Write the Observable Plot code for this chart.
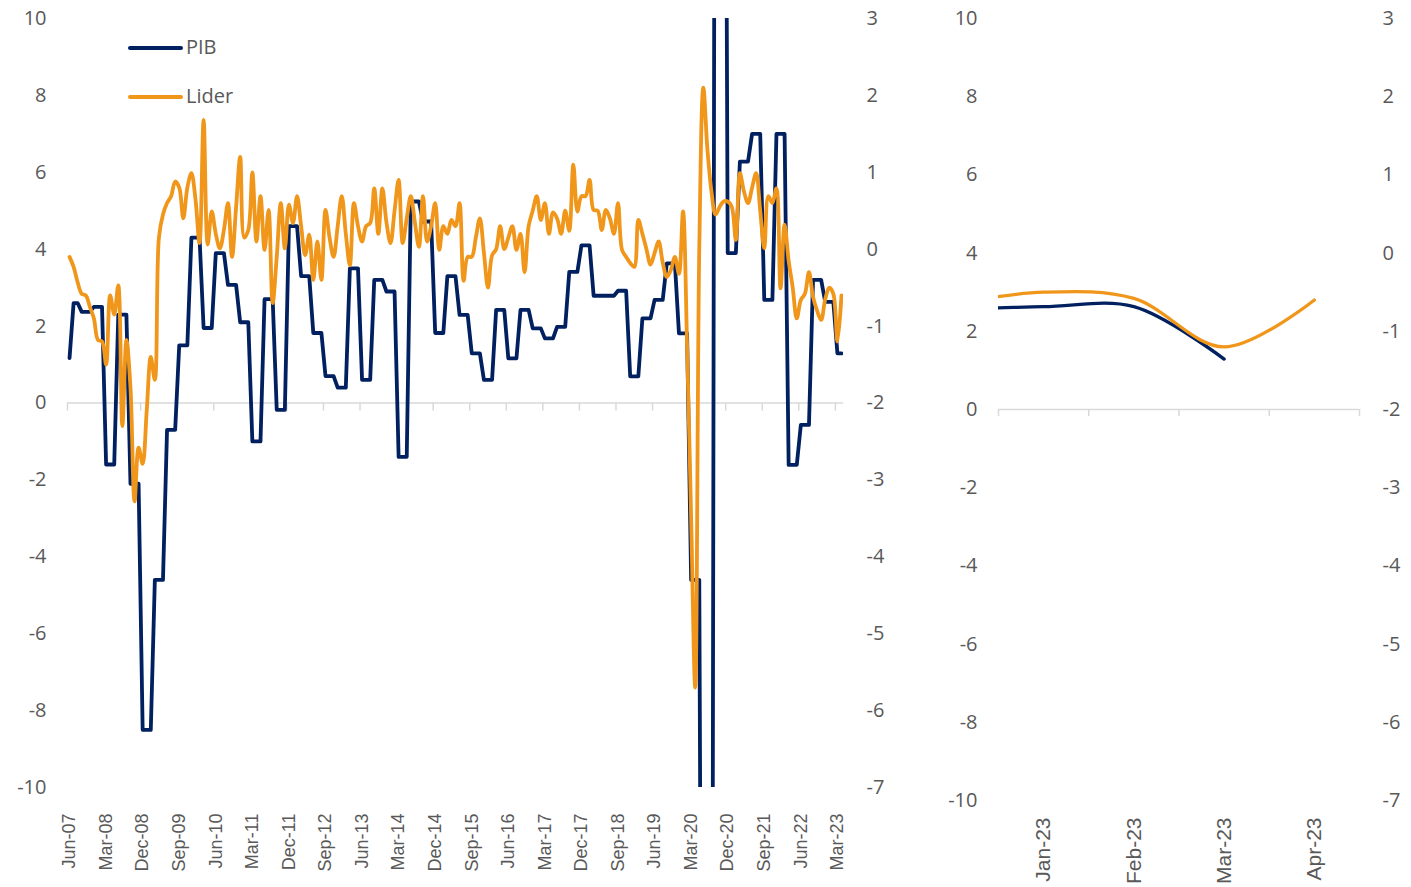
<!DOCTYPE html>
<html><head><meta charset="utf-8">
<script src="https://cdn.jsdelivr.net/npm/d3@7"></script>
<script src="https://cdn.jsdelivr.net/npm/@observablehq/plot@0.6"></script>
<style>
body{margin:0;background:#fff;}
#wrap{position:relative;width:1411px;height:887px;overflow:hidden;background:#fff;}
.layer{position:absolute;top:0;}
.layer svg{overflow:visible;}
.leg{position:absolute;font-family:"Open Sans",sans-serif;font-size:20px;color:#595959;line-height:1;}
.legline{position:absolute;height:4px;border-radius:2px;}
</style></head><body><div id="wrap"></div>
<script>
// Monthly series, first month Jun-07, last month Apr-23
const firstMonth = {year: 2007, month: 5};
const pib = [
 1.17, 2.6, 2.6, 2.37, 2.37, 2.37, 2.5, 2.5, 2.5, -1.6, -1.6, -1.6,
 2.3, 2.3, 2.3, -2.1, -2.1, -2.1, -8.5, -8.5, -8.5, -4.6, -4.6, -4.6,
 -0.7, -0.7, -0.7, 1.5, 1.5, 1.5, 4.3, 4.3, 4.3, 1.95, 1.95, 1.95,
 3.9, 3.9, 3.9, 3.07, 3.07, 3.07, 2.1, 2.1, 2.1, -1.0, -1.0, -1.0,
 2.7, 2.7, 2.7, -0.18, -0.18, -0.18, 4.6, 4.6, 4.6, 3.3, 3.3, 3.3,
 1.82, 1.82, 1.82, 0.7, 0.7, 0.7, 0.4, 0.4, 0.4, 3.5, 3.5, 3.5,
 0.6, 0.6, 0.6, 3.2, 3.2, 3.2, 2.9, 2.9, 2.9, -1.4, -1.4, -1.4,
 5.24, 5.24, 5.24, 4.72, 4.72, 4.72, 1.82, 1.82, 1.82, 3.3, 3.3, 3.3,
 2.29, 2.29, 2.29, 1.29, 1.29, 1.29, 0.6, 0.6, 0.6, 2.42, 2.42, 2.42,
 1.16, 1.16, 1.16, 2.42, 2.42, 2.42, 1.94, 1.94, 1.94, 1.68, 1.68, 1.68,
 1.98, 1.98, 1.98, 3.41, 3.41, 3.41, 4.1, 4.1, 4.1, 2.79, 2.79, 2.79,
 2.79, 2.79, 2.79, 2.92, 2.92, 2.92, 0.69, 0.69, 0.69, 2.2, 2.2, 2.2,
 2.68, 2.68, 2.68, 3.63, 3.63, 3.63, 1.81, 1.81, 1.81, -4.6, -4.6, -4.6,
 -30, -30, -30, 30, 30, 30, 3.9, 3.9, 3.9, 6.28, 6.28, 6.28,
 7.0, 7.0, 7.0, 2.68, 2.68, 2.68, 7.0, 7.0, 7.0, -1.61, -1.61, -1.61,
 -0.57, -0.57, -0.57, 3.2, 3.2, 3.2, 2.63, 2.63, 2.63, 1.29, 1.29
];
const lider = [
 -0.10, -0.23, -0.43, -0.58, -0.60, -0.75, -0.90, -1.18, -1.20, -1.50, -0.60, -0.85,
 -0.47, -2.30, -1.18, -1.80, -3.28, -2.58, -2.79, -2.10, -1.40, -1.70, 0.15, 0.45,
 0.60, 0.69, 0.88, 0.80, 0.40, 0.80, 0.99, 0.65, 0.08, 1.68, 0.06, 0.49,
 0.20, 0.01, 0.25, 0.60, -0.10, 0.55, 1.20, 0.15, 0.25, 1.00, 0.10, 0.69,
 -0.01, 0.51, -0.70, -0.10, 0.60, 0.01, 0.58, 0.34, 0.69, 0.30, -0.08, 0.19,
 -0.40, 0.10, -0.40, 0.51, 0.15, -0.10, 0.30, 0.69, 0.20, -0.21, 0.60, 0.30,
 0.10, 0.30, 0.34, 0.79, 0.20, 0.79, 0.35, 0.08, 0.50, 0.90, 0.08, 0.40,
 0.69, 0.35, 0.03, 0.69, 0.10, 0.30, 0.60, -0.01, 0.30, 0.20, 0.38, 0.30,
 0.60, -0.41, -0.10, -0.10, 0.15, 0.40, -0.05, -0.50, -0.08, 0.00, 0.30, 0.00,
 0.15, 0.30, -0.01, 0.20, -0.30, 0.30, 0.50, 0.69, 0.38, 0.60, 0.20, 0.48,
 0.40, 0.20, 0.50, 0.24, 1.10, 0.49, 0.69, 0.69, 0.90, 0.51, 0.50, 0.25,
 0.51, 0.40, 0.20, 0.60, -0.01, -0.10, -0.18, -0.23, 0.38, 0.20, 0.00, -0.20,
 -0.05, 0.10, -0.17, -0.36, -0.27, -0.10, -0.32, 0.49, -1.25, -3.50, -5.70, 0.00,
 2.10, 1.30, 0.75, 0.45, 0.55, 0.62, 0.62, 0.55, 0.12, 0.99, 0.75, 0.60,
 0.80, 0.99, 0.50, 0.01, 0.69, 0.60, 0.79, -0.51, 0.32, -0.15, -0.50, -0.90,
 -0.66, -0.58, -0.30, -0.62, -0.80, -0.92, -0.65, -0.50, -0.58, -1.20, -0.60
];
const pibTicks = [-10, -8, -6, -4, -2, 0, 2, 4, 6, 8, 10];
const liderTicks = [-7, -6, -5, -4, -3, -2, -1, 0, 1, 2, 3];
const labelStep = 9;
const zoomFirst = 186.5, zoomLast = 190.5;   // Jan-23 .. Apr-23 window
const pibZoomLastIndex = 189;                // PIB shown until Mar-23 in the zoom panel
const seriesNames = ["PIB", "Lider"];
const colors = {PIB: "#002060", Lider: "#F0961A"};

const fmt = d3.utcFormat("%b-%y");
const monthLabel = i => fmt(d3.utcMonth.offset(new Date(Date.UTC(firstMonth.year, firstMonth.month, 1)), i));
const num = d => String(d);
const n = pib.length;
const labelIdx = d3.range(0, n, labelStep);
const tickIdx = labelIdx.map(i => i - 0.5);
const zoomLabelIdx = d3.range(Math.ceil(zoomFirst), zoomLast);
const zoomTickIdx = d3.range(zoomFirst, zoomLast + 0.01, 1);

const FONT = '"Open Sans", sans-serif';
const GRAY = "#595959";
const AXIS = "#D9D9D9";
const wrap = document.getElementById("wrap");
function add(svg, left) {
  const d = document.createElement("div");
  d.className = "layer"; d.style.left = left + "px";
  d.appendChild(svg); wrap.appendChild(d);
}
const H = 887;
// ---------- LEFT PANEL ----------
const L = {width: 930, marginLeft: 67, marginRight: 87, marginTop: 18, marginBottom: 100};
add(Plot.plot({
  ...L, height: H, style: {background: "transparent", fontFamily: FONT},
  x: {domain: [-0.5, n - 0.5], axis: null},
  y: {domain: [-10, 10], axis: null},
  marks: [
    Plot.axisY(pibTicks, {anchor: "left", tickSize: 0, tickPadding: 21, tickFormat: num, fontSize: 20, fill: GRAY, fontFamily: FONT}),
    Plot.ruleY([0], {stroke: AXIS, strokeWidth: 1.5}),
    Plot.ruleX(tickIdx, {x: d => d, y1: 0, y2: -0.21, stroke: AXIS, strokeWidth: 1.5}),
    Plot.axisX(labelIdx, {anchor: "bottom", tickSize: 0, tickPadding: 26, tickRotate: -90, tickFormat: monthLabel,
      fontSize: 18, fill: GRAY, fontFamily: '"Liberation Sans", Arial, sans-serif'}),
    Plot.line(pib, {x: (d, i) => i, y: d => d, stroke: colors.PIB, strokeWidth: 3.8, clip: true, strokeLinejoin: "round"})
  ]
}), 0);
add(Plot.plot({
  ...L, height: H, style: {background: "transparent", fontFamily: FONT},
  x: {domain: [-0.5, n - 0.5], axis: null},
  y: {domain: [-7, 3], axis: null},
  marks: [
    Plot.axisY(liderTicks, {anchor: "right", tickSize: 0, tickPadding: 23, tickFormat: num, fontSize: 20, fill: GRAY, fontFamily: FONT}),
    Plot.line(lider, {x: (d, i) => i, y: d => d, stroke: colors.Lider, strokeWidth: 3.8, curve: "catmull-rom", clip: true})
  ]
}), 0);
// ---------- RIGHT PANEL ----------
const R = {width: 481, marginLeft: 68, marginRight: 52, marginTop: 18, marginBottom: 87};
add(Plot.plot({
  ...R, height: H, style: {background: "transparent", fontFamily: FONT},
  x: {domain: [zoomFirst, zoomLast], axis: null},
  y: {domain: [-10, 10], axis: null},
  marks: [
    Plot.axisY(pibTicks, {anchor: "left", tickSize: 0, tickPadding: 21, tickFormat: num, fontSize: 20, fill: GRAY, fontFamily: FONT}),
    Plot.ruleY([0], {stroke: AXIS, strokeWidth: 1.5}),
    Plot.ruleX(zoomTickIdx, {x: d => d, y1: 0, y2: -0.18, stroke: AXIS, strokeWidth: 1.5}),
    Plot.axisX(zoomLabelIdx, {anchor: "bottom", tickSize: 0, tickPadding: 17, tickRotate: -90, tickFormat: monthLabel,
      fontSize: 21, fill: GRAY, fontFamily: '"Liberation Sans Narrow", "Arial Narrow", sans-serif'}),
    Plot.line(pib.slice(0, pibZoomLastIndex + 1), {x: (d, i) => i, y: d => d, stroke: colors.PIB, strokeWidth: 3.3, curve: "catmull-rom", clip: true})
  ]
}), 930);
add(Plot.plot({
  ...R, height: H, style: {background: "transparent", fontFamily: FONT},
  x: {domain: [zoomFirst, zoomLast], axis: null},
  y: {domain: [-7, 3], axis: null},
  marks: [
    Plot.axisY(liderTicks, {anchor: "right", tickSize: 0, tickPadding: 23, tickFormat: num, fontSize: 20, fill: GRAY, fontFamily: FONT}),
    Plot.line(lider, {x: (d, i) => i, y: d => d, stroke: colors.Lider, strokeWidth: 3.3, curve: "catmull-rom", clip: true})
  ]
}), 930);
// ---------- LEGEND ----------
seriesNames.forEach((name, k) => {
  const top = 48 + k * 49;
  const ln = document.createElement("div");
  ln.className = "legline";
  ln.style.cssText = `left:128px;top:${top - 2}px;width:55px;background:${colors[name]};`;
  wrap.appendChild(ln);
  const t = document.createElement("div");
  t.className = "leg"; t.textContent = name;
  t.style.left = "186px"; t.style.top = (top - 11) + "px";
  wrap.appendChild(t);
});
</script></body></html>
